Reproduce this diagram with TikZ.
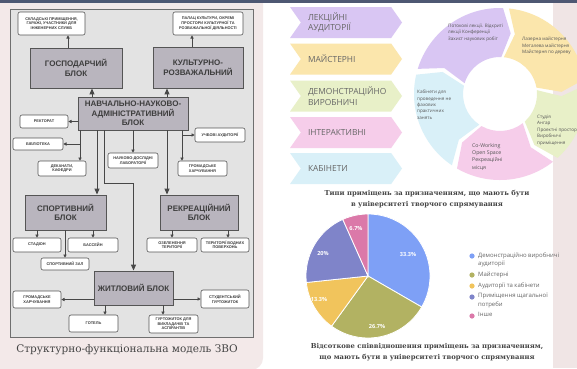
\documentclass[tikz,border=0pt]{standalone}
\usepackage{fontspec}
\setmainfont{DejaVu Serif}
\newfontfamily\blokfont{Liberation Sans}
\newfontfamily\opensans{Open Sans}
\usetikzlibrary{shapes.symbols,arrows.meta}

\definecolor{topbar}{HTML}{4E5873}
\definecolor{panelpink}{HTML}{F3E9E9}
\definecolor{stripepink}{HTML}{F0E5E5}
\definecolor{framefill}{HTML}{E3E3E3}
\definecolor{frameline}{HTML}{6F6F6F}
\definecolor{blokfill}{HTML}{B9B5BE}
\definecolor{blokline}{HTML}{555555}
\definecolor{bloktext}{HTML}{3D3D3D}
\definecolor{arrline}{HTML}{474747}
\definecolor{chevtext}{HTML}{666666}
\definecolor{chevpurple}{HTML}{D9C6F3}
\definecolor{chevyellow}{HTML}{FBE6AC}
\definecolor{chevgreen}{HTML}{E8F0C8}
\definecolor{chevpink}{HTML}{F6CDEA}
\definecolor{chevblue}{HTML}{D9F0F8}
\definecolor{cyctext}{HTML}{555555}
\definecolor{pieblue}{HTML}{7EA0F6}
\definecolor{pieolive}{HTML}{B2B262}
\definecolor{pieyellow}{HTML}{F1C45C}
\definecolor{piepurple}{HTML}{7F84C9}
\definecolor{piepink}{HTML}{DB79A9}
\definecolor{titletext}{HTML}{444444}
\definecolor{legendtext}{HTML}{666666}

\tikzset{
    blok/.style={draw=blokline, fill=blokfill, line width=0.9pt, align=center, inner sep=2pt,
        text=bloktext, font=\blokfont\bfseries\fontsize{8}{9.5}\selectfont},
    item/.style={draw=blokline, fill=white, rounded corners=2pt, line width=0.6pt, align=center,
        inner sep=1pt, text=bloktext, font=\blokfont\bfseries\fontsize{3.9}{4.6}\selectfont},
    arr/.style={draw=arrline, line width=0.7pt, -{Triangle[length=3.2pt,width=3.2pt]}},
    bigarr/.style={draw=arrline, line width=1pt, -{Triangle[length=6pt,width=5pt]}},
    chev/.style={signal, signal to=east, signal from=west, signal pointer angle=110,
        minimum width=112, minimum height=31, inner sep=0pt, text width=76, align=left,
        text=chevtext, font=\opensans\fontsize{8.4}{10.8}\selectfont},
    cyc/.style={anchor=north west, inner sep=0pt, align=left, text=cyctext,
        font=\opensans\fontsize{4.6}{6.4}\selectfont},
    pielabel/.style={text=white, font=\opensans\bfseries\fontsize{5.6}{6}\selectfont},
    legend/.style={anchor=north west, inner sep=0pt, align=left, text=legendtext,
        font=\opensans\fontsize{6}{8.5}\selectfont},
    title/.style={align=center, text=titletext, font=\bfseries\fontsize{6.8}{11}\selectfont}
}

\begin{document}
\begin{tikzpicture}[x=1pt, y=-1pt]
    \useasboundingbox (0,0) rectangle (577,368);
    \fill[white] (0,0) rectangle (577,368);
    \fill[panelpink, rounded corners=12pt] (-20,-20) rectangle (263,370);
    \fill[stripepink] (553,0) rectangle (577,368);
    \fill[topbar] (0,0) rectangle (577,3);

    \draw[draw=frameline, fill=framefill, line width=0.8pt] (10,9) rectangle (253,337);

    \node[blok, minimum width=92, minimum height=40] (gospodar) at (76,68) {ГОСПОДАРЧИЙ\\БЛОК};
    \node[blok, minimum width=90, minimum height=41] (kultura) at (198,67.5) {КУЛЬТУРНО-\\РОЗВАЖАЛЬНИЙ};
    \node[blok, minimum width=110, minimum height=33] (navch) at (133,113.5) {НАВЧАЛЬНО-НАУКОВО-\\АДМІНІСТРАТИВНИЙ\\БЛОК};
    \node[blok, minimum width=81, minimum height=35] (sport) at (65.5,212.5) {СПОРТИВНИЙ\\БЛОК};
    \node[blok, minimum width=78, minimum height=35] (rekr) at (199,212.5) {РЕКРЕАЦІЙНИЙ\\БЛОК};
    \node[blok, minimum width=79, minimum height=34] (zhytl) at (133.5,288) {ЖИТЛОВИЙ БЛОК};

    \node[item, minimum width=67, minimum height=23] (sklad) at (51.5,23.5) {СКЛАДСЬКІ ПРИМІЩЕННЯ,\\ГАРАЖІ, УЧАСТНИКИ ДЛЯ\\ІНЖЕНЕРНИХ СЛУЖБ};
    \node[item, minimum width=70, minimum height=23] (palats) at (208,23.5) {ПАЛАЦ КУЛЬТУРИ, ОКРЕМІ\\ПРОСТОРИ КУЛЬТУРНОЇ ТА\\РОЗВАЖАЛЬНОЇ ДІЯЛЬНОСТІ};
    \node[item, minimum width=48, minimum height=13] (rektorat) at (44,121.5) {РЕКТОРАТ};
    \node[item, minimum width=50, minimum height=12] (biblio) at (38,144) {БІБЛІОТЕКА};
    \node[item, minimum width=48, minimum height=15] (dekanat) at (62,168.5) {ДЕКАНАТИ,\\КАФЕДРИ};
    \node[item, minimum width=50, minimum height=15] (labor) at (133,160.5) {НАУКОВО-ДОСЛІДНІ\\ЛАБОРАТОРІЇ};
    \node[item, minimum width=50, minimum height=14] (uchbovi) at (220,135) {УЧБОВІ АУДИТОРІЇ};
    \node[item, minimum width=49, minimum height=15] (harch1) at (202.5,168.5) {ГРОМАДСЬКЕ\\ХАРЧУВАННЯ};
    \node[item, minimum width=48, minimum height=14] (stadion) at (37,245) {СТАДІОН};
    \node[item, minimum width=50, minimum height=14] (basein) at (93,245) {БАССЕЙН};
    \node[item, minimum width=48, minimum height=12] (sportzal) at (65,264) {СПОРТИВНИЙ ЗАЛ};
    \node[item, minimum width=50, minimum height=14] (ozelen) at (172,245) {ОЗЕЛЕНЕННЯ\\ТЕРИТОРІЇ};
    \node[item, minimum width=48, minimum height=14] (vodni) at (225,245) {ТЕРИТОРІЇ ВОДНИХ\\ПОВЕРХОНЬ};
    \node[item, minimum width=48, minimum height=17] (harch2) at (37,299.5) {ГРОМАДСЬКЕ\\ХАРЧУВАННЯ};
    \node[item, minimum width=49, minimum height=17] (hotel) at (93.5,323.5) {ГОТЕЛЬ};
    \node[item, minimum width=49, minimum height=18] (gurtvykl) at (173.5,324) {ГУРТОЖИТОК ДЛЯ\\ВИКЛАДАЧІВ ТА\\АСПІРАНТІВ};
    \node[item, minimum width=48, minimum height=18] (student) at (225,299) {СТУДЕНТСЬКИЙ\\ГУРТОЖИТОК};

    \draw[arr] ([xshift=-8pt]gospodar.north) -- ([xshift=-8pt]gospodar.north |- sklad.south);
    \draw[arr] ([xshift=-6pt]kultura.north) -- ([xshift=-6pt]kultura.north |- palats.south);
    \draw[bigarr] ([xshift=16pt]gospodar.south |- navch.north) -- ([xshift=16pt]gospodar.south);
    \draw[bigarr] ([xshift=-31pt]kultura.south |- navch.north) -- ([xshift=-31pt]kultura.south);
    \draw[arr] (navch.west |- rektorat.east) -- (rektorat.east);
    \draw[arr] ([xshift=18pt]dekanat.north |- navch.south) -- ([xshift=18pt]dekanat.north);
    \draw[arr] ([xshift=18pt]dekanat.north |- biblio.east) -- (biblio.east);
    \draw[bigarr] ([xshift=31.5pt]sport.north |- navch.south) -- ([xshift=31.5pt]sport.north);
    \coordinate (zhytlbend) at (133.5,183);
    \draw[bigarr] ([xshift=-29.5pt]zhytl.north |- navch.south) |- (zhytlbend) -- (zhytl.north);
    \draw[arr] (labor.north |- navch.south) -- (labor.north);
    \draw[arr] ([xshift=-20.5pt]harch1.north |- navch.south) -- ([xshift=-20.5pt]harch1.north);
    \draw[arr] ([xshift=-20.5pt]harch1.north |- uchbovi.west) -- (uchbovi.west);
    \draw[bigarr] ([xshift=-32pt]rekr.north |- navch.south) -- ([xshift=-32pt]rekr.north);
    \draw[arr] (stadion.north |- sport.south) -- (stadion.north);
    \draw[arr] (basein.north |- sport.south) -- (basein.north);
    \draw[arr] (sportzal.north |- sport.south) -- (sportzal.north);
    \draw[arr] (ozelen.north |- rekr.south) -- (ozelen.north);
    \draw[arr] ([xshift=3pt]vodni.north |- rekr.south) -- ([xshift=3pt]vodni.north);
    \draw[arr] (zhytl.west |- harch2.east) -- (harch2.east);
    \draw[arr] (zhytl.east |- student.west) -- (student.west);
    \draw[arr] ([xshift=11.5pt]hotel.north |- zhytl.south) -- ([xshift=11.5pt]hotel.north);
    \draw[arr] ([xshift=-10.5pt]gurtvykl.north |- zhytl.south) -- ([xshift=-10.5pt]gurtvykl.north);

    \node[text=titletext, font=\fontsize{10.5}{12}\selectfont] (modelcap) at (127,350) {Структурно-функціональна модель ЗВО};

    \node[chev, fill=chevpurple] (lekcii) at (346,22.5) {ЛЕКЦІЙНІ\\АУДИТОРІЇ};
    \node[chev, fill=chevyellow] (maisterni) at (346,59) {МАЙСТЕРНІ};
    \node[chev, fill=chevgreen] (demonstr) at (346,96) {ДЕМОНСТРАЦІЙНО\\ВИРОБНИЧІ};
    \node[chev, fill=chevpink] (interakt) at (346,132.5) {ІНТЕРАКТИВНІ};
    \node[chev, fill=chevblue] (kabinety) at (346,168.5) {КАБІНЕТИ};

    \begin{scope}[shift={(500,94)}, yscale=-1]
        \foreach \s/\e/\c in {163/88/chevpurple, 84/10/chevyellow, 6/-48/chevgreen, -52/-120/chevpink, -124/-193/chevblue} {
            \fill[\c] (\s:86) arc[start angle=\s, end angle=\e, radius=86] -- (\e-8:61.5)
                -- (\e:37) arc[start angle=\e, end angle=\s, radius=37] -- (\s-8:61.5) -- cycle;
        }
    \end{scope}
    \node[cyc] (cyclekc) at (448,24) {Потокові лекції. Відкриті\\лекції Конференції\\Захист наукових робіт};
    \node[cyc] (cycmaist) at (522,37) {Лазерна майстерня\\Металева майстерня\\Майстерня по дереву};
    \node[cyc] (cyckab) at (417,90) {Кабінети для\\проведення не\\фахових\\практичних\\занять};
    \node[cyc] (cycstud) at (537,115) {Студія\\Ангар\\Проектні простори\\Виробничі\\приміщення};
    \node[cyc, font=\opensans\fontsize{5.2}{7.3}\selectfont] (cycwork) at (472,143) {Co-Working\\Open Space\\Рекреаційні\\місця};

    \node[title] (pietitle) at (427,199.5) {Типи приміщень за призначенням, що мають бути\\в університеті творчого спрямування};

    \begin{scope}[shift={(368,276)}, yscale=-1]
        \foreach \a/\b/\c in {90/-30/pieblue, -30/-126/pieolive, -126/-174/pieyellow, -174/-246/piepurple, -246/-270/piepink} {
            \filldraw[fill=\c, draw=white, line width=0.8pt] (0,0) -- (\a:62) arc[start angle=\a, end angle=\b, radius=62] -- cycle;
        }
    \end{scope}
    \node[pielabel] (pct1) at (408,254) {33.3\%};
    \node[pielabel] (pct2) at (377,326) {26.7\%};
    \node[pielabel] (pct3) at (319,299) {13.3\%};
    \node[pielabel] (pct4) at (323,253) {20\%};
    \node[pielabel] (pct5) at (356,228) {6.7\%};

    \foreach \y/\c in {256/pieblue, 275/pieolive, 286/pieyellow, 297/piepurple, 316/piepink} {
        \fill[\c] (472,\y) circle[radius=2.6];
    }
    \node[legend] (leg1) at (478,252.3) {Демонстраційно виробничі\\аудиторії};
    \node[legend] (leg2) at (478,271.3) {Майстерні};
    \node[legend] (leg3) at (478,282.3) {Аудиторії та кабінети};
    \node[legend] (leg4) at (478,293.3) {Приміщення щагальної\\потреби};
    \node[legend] (leg5) at (478,312.3) {Інше};

    \node[title] (piecaption) at (427,352.5) {Відсоткове співвідношення приміщень за призначенням,\\що мають бути в університеті творчого спрямування};
\end{tikzpicture}
\end{document}
